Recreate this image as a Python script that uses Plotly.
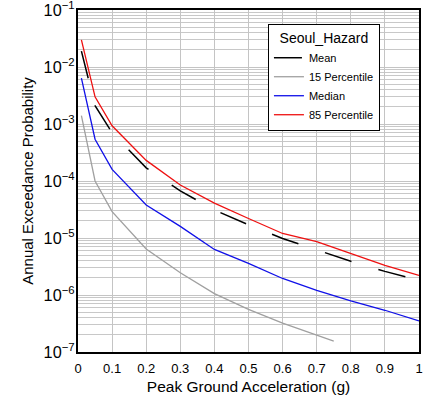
import plotly.graph_objects as go

pga = [0.01, 0.05, 0.1, 0.2, 0.3, 0.4, 0.5, 0.6, 0.7, 0.8, 0.9, 1.0]
mean = [1.9e-2, 2.1e-3, 7.0e-4, 1.7e-4, 6.7e-5, 3.1e-5, 1.7e-5, 9.8e-6, 6.2e-6, 3.9e-6, 2.6e-6, 1.8e-6]
pga15 = [0.01, 0.05, 0.1, 0.2, 0.3, 0.4, 0.5, 0.6, 0.7, 0.75]
p15 = [1.4e-3, 1.0e-4, 2.9e-5, 6.4e-6, 2.45e-6, 1.06e-6, 5.6e-7, 3.2e-7, 1.97e-7, 1.55e-7]
median = [6.4e-3, 5.4e-4, 1.6e-4, 3.8e-5, 1.6e-5, 6.3e-6, 3.6e-6, 1.95e-6, 1.21e-6, 7.9e-7, 5.4e-7, 3.5e-7]
p85 = [3.0e-2, 3.0e-3, 9.3e-4, 2.3e-4, 8.5e-5, 4.1e-5, 2.2e-5, 1.2e-5, 8.6e-6, 5.4e-6, 3.3e-6, 2.2e-6]

xtick_vals = [0, 0.1, 0.2, 0.3, 0.4, 0.5, 0.6, 0.7, 0.8, 0.9, 1]
xtick_text = ["0", "0.1", "0.2", "0.3", "0.4", "0.5", "0.6", "0.7", "0.8", "0.9", "1"]

fig = go.Figure()
fig.add_trace(go.Scatter(x=pga, y=mean, mode="lines", name="Mean",
                         line=dict(color="black", width=1.5, dash="28px,28px")))
fig.add_trace(go.Scatter(x=pga15, y=p15, mode="lines", name="15 Percentile",
                         line=dict(color="#a0a0a0", width=1.3)))
fig.add_trace(go.Scatter(x=pga, y=median, mode="lines", name="Median",
                         line=dict(color="#1010e8", width=1.3)))
fig.add_trace(go.Scatter(x=pga, y=p85, mode="lines", name="85 Percentile",
                         line=dict(color="#ee1111", width=1.3)))

fig.update_layout(
    width=427, height=400,
    margin=dict(l=78, r=8, t=10, b=48, autoexpand=False),
    paper_bgcolor="white", plot_bgcolor="white",
    font=dict(family="Liberation Sans, Arial", color="black", size=13),
    legend=dict(
        x=0.557, y=0.959, xanchor="left", yanchor="top",
        bgcolor="white", bordercolor="black", borderwidth=1,
        font=dict(size=11),
        title=dict(text="Seoul_Hazard", side="top center", font=dict(size=14)),
        tracegroupgap=0,
    ),
    xaxis=dict(
        range=[0, 1], tickvals=xtick_vals, ticktext=xtick_text,
        showgrid=True, gridcolor="#c4c4c4", gridwidth=1,
        showline=True, linecolor="black", linewidth=1.5, mirror=True,
        ticks="", zeroline=False, automargin=False, ticklabeloverflow="allow",
        ticklabelstandoff=4,
        title=dict(text="Peak Ground Acceleration (g)", font=dict(size=15.5), standoff=6),
    ),
    yaxis=dict(
        type="log", range=[-7, -1], dtick=1,
        exponentformat="power", showexponent="all",
        showgrid=True, gridcolor="#c4c4c4", gridwidth=1,
        minor=dict(dtick="D1", showgrid=True, gridcolor="#c8c8c8", gridwidth=1, ticks=""),
        showline=True, linecolor="black", linewidth=1.5, mirror=True,
        ticks="", zeroline=False, automargin=False, ticklabeloverflow="allow",
        ticklabelstandoff=-1,
        title=dict(text="Annual Exceedance Probability", font=dict(size=15), standoff=6),
    ),
)

fig.write_html("out.html", config={"displayModeBar": False},
               post_script="document.body.style.margin='0';")
